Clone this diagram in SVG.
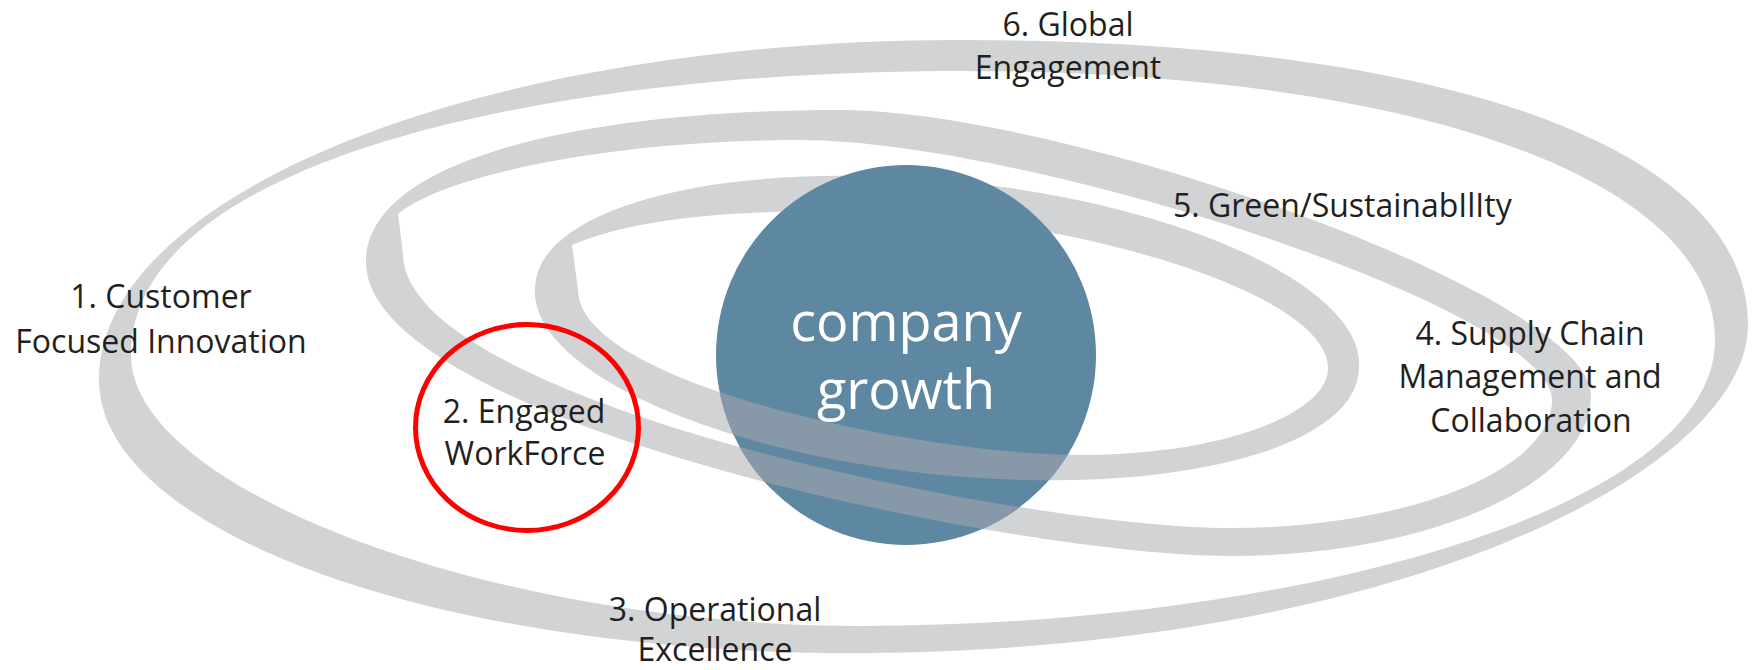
<svg xmlns="http://www.w3.org/2000/svg" width="1752" height="670" viewBox="0 0 1752 670">
<defs>
<style>
.ring{fill:#d1d3d4;fill-rule:evenodd}
.front{fill:#8799a8;fill-rule:evenodd}
.lbl{font-family:"Open Sans","Liberation Sans",sans-serif;font-size:32px;fill:#231f20;text-anchor:middle}
.core{font-family:"Open Sans","Liberation Sans",sans-serif;font-size:54px;fill:#ffffff;text-anchor:middle}
</style>
<path id="p-middle" d="M 366,262 C 366,160 580,110 840,110 C 1065,110 1591,295 1591,395 C 1591,483.6 1428.6,556 1230,556 C 1014,556 366,422 366,262 Z M 398,214 C 440,178 600,140 800,140 C 1025.6,140 1552,309 1552,400 C 1552,470.4 1407,528 1230,528 C 1022.5,528 404,403 403,254 Z"/>
<path id="p-inner" d="M 1358.7,371.3 A 414 145 6 1 1 535.3,284.7 A 414 145 6 1 1 1358.7,371.3 Z M 572,245 C 630,220 720,211 830,211 C 1054,211 1328,289.5 1328,368 C 1328,415.9 1216,455 1080,455 C 927,455 579,385 578,290 Z"/>
<clipPath id="frontClip"><path d="M 724.1,300 A 190 190 0 1 0 1087.9,300 Z"/></clipPath>
</defs>
<rect width="1752" height="670" fill="#ffffff"/>
<g id="ring-outer"><path class="ring" d="M 99,380 C 99,192.2 484.5,40 960,40 C 1448.6,40 1748,148.3 1748,325 C 1748,472.6 1388.8,653 850,653 C 435.2,653 99,530.8 99,380 Z M 131,355 C 131,160 545.5,71 960,71 C 1413,71 1715,178.6 1715,340 C 1715,511.6 1287.5,626 860,626 C 495.5,626 131,490.5 131,355 Z"/></g>
<g id="ring-middle"><use href="#p-middle" class="ring"/></g>
<g id="ring-inner"><use href="#p-inner" class="ring"/></g>
<g id="company-growth">
<circle cx="906" cy="355" r="190" fill="#5e87a1"/>
<g clip-path="url(#frontClip)"><use href="#p-middle" class="front"/><use href="#p-inner" class="front"/></g>
<text class="core" x="906" y="341">company</text>
<text class="core" x="906" y="409">growth</text>
</g>
<g id="label-1"><text class="lbl" x="161" y="308">1. Customer</text><text class="lbl" x="161" y="353">Focused Innovation</text></g>
<g id="label-2"><text class="lbl" x="524" y="423">2. Engaged</text><text class="lbl" x="525" y="465">WorkForce</text></g>
<g id="label-3"><text class="lbl" x="715" y="621">3. Operational</text><text class="lbl" x="715" y="661">Excellence</text></g>
<g id="label-4"><text class="lbl" x="1530" y="345">4. Supply Chain</text><text class="lbl" x="1530" y="388">Management and</text><text class="lbl" x="1531" y="432">Collaboration</text></g>
<g id="label-5"><text class="lbl" x="1173" y="217" style="text-anchor:start">5. Green/SustainabIlIty</text></g>
<g id="label-6"><text class="lbl" x="1068" y="36">6. Global</text><text class="lbl" x="1068" y="79">Engagement</text></g>
<g id="highlight"><ellipse cx="527" cy="427.5" rx="111.5" ry="103" fill="none" stroke="#ff0000" stroke-width="5"/></g>
</svg>
